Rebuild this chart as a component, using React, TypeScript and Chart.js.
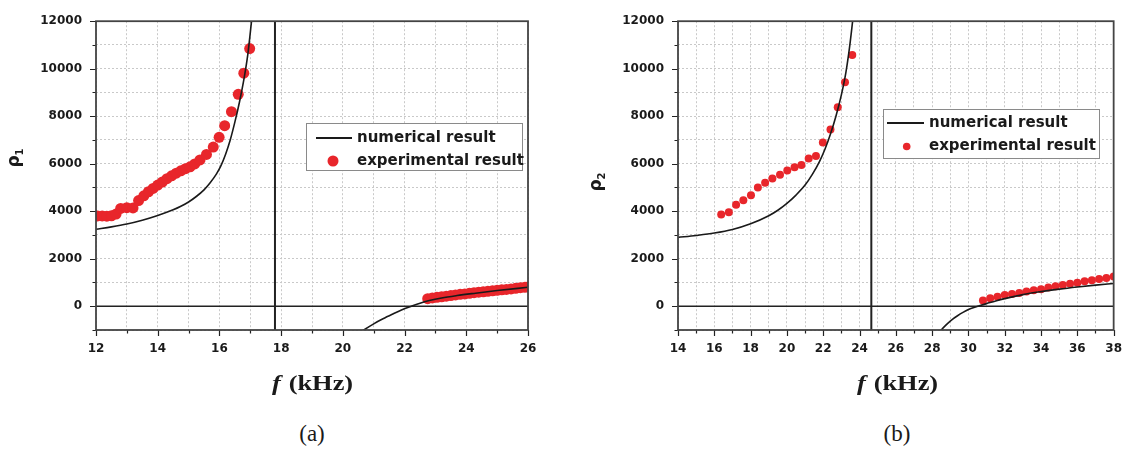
import React, { useEffect, useRef } from "react";
import { Chart, registerables } from "chart.js";

Chart.register(...registerables);

// ---------------- Panel (a) data ----------------
const aXRange = [12, 26];
const aYRange = [-1000, 12000];
const aVLine = 17.8;

const aNumLowX = [12.0, 12.5, 13.0, 13.5, 14.0, 14.5, 14.75, 15.0, 15.25, 15.5, 15.7, 15.9, 16.05, 16.2, 16.35, 16.5, 16.65, 16.8, 16.92, 17.04, 17.12];
const aNumLowY = [3240, 3340, 3460, 3620, 3820, 4060, 4210, 4390, 4620, 4900, 5200, 5560, 5920, 6400, 7000, 7750, 8600, 9600, 10600, 12000, 13000];

const aNumHighX = [20.6, 20.68, 21.0, 21.3, 21.6, 21.9, 22.22, 22.5, 22.8, 23.2, 23.7, 24.3, 25.0, 26.0];
const aNumHighY = [-1080, -1000, -740, -530, -340, -160, 0, 130, 240, 350, 450, 550, 660, 800];

const aExpLowX = [12.05, 12.2, 12.35, 12.5, 12.65, 12.8, 13.0, 13.2, 13.38, 13.55, 13.7, 13.85, 14.0, 14.15, 14.3, 14.45, 14.6, 14.75, 14.9, 15.05, 15.2, 15.37, 15.58, 15.8, 15.99, 16.17, 16.39, 16.61, 16.79, 16.98];
const aExpLowY = [3800, 3800, 3790, 3810, 3880, 4120, 4150, 4140, 4450, 4650, 4820, 4960, 5100, 5230, 5370, 5490, 5600, 5700, 5790, 5870, 5990, 6160, 6390, 6700, 7110, 7600, 8190, 8920, 9810, 10850];

const aExpHighX = [22.75, 22.9, 23.05, 23.2, 23.35, 23.5, 23.65, 23.8, 23.95, 24.1, 24.25, 24.4, 24.55, 24.7, 24.85, 25.0, 25.15, 25.3, 25.45, 25.6, 25.75, 25.9, 26.0];
const aExpHighY = [320, 350, 375, 400, 425, 450, 475, 500, 520, 545, 570, 590, 610, 630, 650, 670, 690, 710, 730, 755, 780, 800, 815];

// ---------------- Panel (b) data ----------------
const bXRange = [14, 38];
const bYRange = [-1000, 12000];
const bVLine = 24.65;

const bNumLowX = [14, 15, 16, 17, 18, 19, 19.5, 20, 20.5, 21, 21.4, 21.8, 22.1, 22.4, 22.7, 23.0, 23.25, 23.45, 23.62, 23.7];
const bNumLowY = [2900, 2980, 3080, 3230, 3470, 3810, 4040, 4330, 4680, 5100, 5550, 6100, 6620, 7250, 8000, 8900, 9850, 10900, 12000, 12600];

const bNumHighX = [28.4, 28.5, 28.8, 29.1, 29.4, 29.7, 30.0, 30.3, 30.6, 31.0, 31.5, 32.0, 33.0, 34.0, 35.0, 36.0, 37.0, 38.0];
const bNumHighY = [-1100, -1000, -760, -560, -400, -260, -140, -50, 20, 110, 225, 320, 490, 615, 720, 810, 890, 960];

const bExpLowX = [16.38, 16.8, 17.2, 17.6, 18.02, 18.4, 18.8, 19.2, 19.62, 20.02, 20.42, 20.8, 21.2, 21.6, 21.98, 22.4, 22.8, 23.2, 23.6];
const bExpLowY = [3865, 3960, 4270, 4460, 4675, 5000, 5200, 5380, 5540, 5715, 5850, 5945, 6215, 6325, 6890, 7445, 8380, 9430, 10580];

const bExpHighX = [30.8, 31.2, 31.6, 32.0, 32.4, 32.8, 33.2, 33.6, 34.0, 34.4, 34.8, 35.2, 35.6, 36.0, 36.4, 36.8, 37.2, 37.6, 38.0];
const bExpHighY = [243, 338, 405, 473, 513, 554, 622, 676, 716, 784, 838, 892, 946, 986, 1054, 1094, 1149, 1189, 1257];

// ---------------- Text ----------------
const legendLabels = ["numerical result", "experimental result"];
const xTitleItalic = "f";
const xTitleRest = " (kHz)";
const yTitleMain = "ρ";
const captions = ["(a)", "(b)"];

const RED = "#e8262b";
const INK = "#1a1a1a";

const pts = (xs: number[], ys: number[]) => xs.map((x, i) => ({ x, y: ys[i] }));

type Spec = {
  xr: number[];
  yr: number[];
  vline: number;
  numLow: [number[], number[]];
  numHigh: [number[], number[]];
  expLow: [number[], number[]];
  expHigh: [number[], number[]];
  ySub: string;
  width: number;
  height: number;
  yAxisWidth: number;
  padRight: number;
  dotR: number;
  legDotR: number;
  leg: { x: number; y: number; w: number; h: number; lx1: number; lx2: number; tx: number; r1: number; r2: number; dx: number };
  yTitle: { x: number; y: number };
  xTitle: { x: number; y: number };
};

const specA: Spec = {
  xr: aXRange,
  yr: aYRange,
  vline: aVLine,
  numLow: [aNumLowX, aNumLowY],
  numHigh: [aNumHighX, aNumHighY],
  expLow: [aExpLowX, aExpLowY],
  expHigh: [aExpHighX, aExpHighY],
  ySub: "1",
  width: 560,
  height: 400,
  yAxisWidth: 96,
  padRight: 32,
  dotR: 5.5,
  legDotR: 5.5,
  leg: { x: 306, y: 123, w: 216, h: 47, lx1: 316, lx2: 352, tx: 357, r1: 138, r2: 161, dx: 333 },
  yTitle: { x: 16, y: 158 },
  xTitle: { x: 312, y: 384 },
};

const specB: Spec = {
  xr: bXRange,
  yr: bYRange,
  vline: bVLine,
  numLow: [bNumLowX, bNumLowY],
  numHigh: [bNumHighX, bNumHighY],
  expLow: [bExpLowX, bExpLowY],
  expHigh: [bExpHighX, bExpHighY],
  ySub: "2",
  width: 574,
  height: 400,
  yAxisWidth: 118,
  padRight: 16,
  dotR: 4,
  legDotR: 3.8,
  leg: { x: 323, y: 109, w: 216, h: 49, lx1: 327, lx2: 364, tx: 369, r1: 123, r2: 146.5, dx: 346.7 },
  yTitle: { x: 38, y: 182 },
  xTitle: { x: 337, y: 384 },
};

const decor = (s: Spec) => ({
  id: "decor",
  afterDraw(chart: any) {
    const { ctx, chartArea: a, scales } = chart;
    const xs = scales.x;
    const ys = scales.y;
    ctx.save();
    // tick marks
    ctx.strokeStyle = "#222";
    ctx.lineWidth = 1.2;
    ctx.beginPath();
    for (let v = s.xr[0]; v <= s.xr[1]; v += 1) {
      const px = Math.round(xs.getPixelForValue(v)) + 0.5;
      const len = v % 2 === 0 ? 6 : 3.5;
      ctx.moveTo(px, a.bottom);
      ctx.lineTo(px, a.bottom + len);
    }
    for (let v = s.yr[0]; v <= s.yr[1]; v += 1000) {
      const py = Math.round(ys.getPixelForValue(v)) + 0.5;
      const len = v % 2000 === 0 ? 6 : 3.5;
      ctx.moveTo(a.left, py);
      ctx.lineTo(a.left - len, py);
    }
    ctx.stroke();
    // frame
    ctx.lineWidth = 1.8;
    ctx.strokeStyle = "#444";
    ctx.strokeRect(a.left, a.top, a.right - a.left, a.bottom - a.top);

    // legend
    const L = s.leg;
    ctx.fillStyle = "#fff";
    ctx.fillRect(L.x, L.y, L.w, L.h);
    ctx.lineWidth = 1;
    ctx.strokeStyle = "#8a8a8a";
    ctx.strokeRect(L.x + 0.5, L.y + 0.5, L.w, L.h);
    ctx.strokeStyle = INK;
    ctx.lineWidth = 1.8;
    ctx.beginPath();
    ctx.moveTo(L.lx1, L.r1);
    ctx.lineTo(L.lx2, L.r1);
    ctx.stroke();
    ctx.fillStyle = RED;
    ctx.beginPath();
    ctx.arc(L.dx, L.r2, s.legDotR, 0, Math.PI * 2);
    ctx.fill();
    ctx.fillStyle = INK;
    ctx.font = 'bold 15px "DejaVu Sans"';
    ctx.textBaseline = "middle";
    ctx.textAlign = "left";
    ctx.fillText(legendLabels[0], L.tx, L.r1);
    ctx.fillText(legendLabels[1], L.tx, L.r2);

    // y title
    ctx.save();
    ctx.translate(s.yTitle.x, s.yTitle.y);
    ctx.rotate(-Math.PI / 2);
    ctx.textBaseline = "alphabetic";
    ctx.font = 'bold 17px "DejaVu Sans"';
    const w1 = ctx.measureText(yTitleMain).width;
    ctx.font = 'bold 10px "DejaVu Sans"';
    const w2 = ctx.measureText(s.ySub).width;
    const st = -(w1 + w2) / 2;
    ctx.font = 'bold 17px "DejaVu Sans"';
    ctx.fillText(yTitleMain, st, 3);
    ctx.font = 'bold 10px "DejaVu Sans"';
    ctx.fillText(s.ySub, st + w1, 7);
    ctx.restore();

    // x title
    ctx.save();
    ctx.translate(s.xTitle.x, s.xTitle.y);
    ctx.scale(1.2, 1);
    ctx.textBaseline = "middle";
    ctx.font = 'italic bold 22px "Liberation Serif"';
    const wf = ctx.measureText(xTitleItalic).width;
    ctx.font = 'bold 22px "Liberation Serif"';
    const wr = ctx.measureText(xTitleRest).width;
    const sx = -(wf + wr) / 2;
    ctx.font = 'italic bold 22px "Liberation Serif"';
    ctx.fillText(xTitleItalic, sx, 0);
    ctx.font = 'bold 22px "Liberation Serif"';
    ctx.fillText(xTitleRest, sx + wf + 1, 0);
    ctx.restore();

    ctx.restore();
  },
});

const tickFont = { family: '"DejaVu Sans"', weight: "bold" as const, size: 12 };

function Panel({ spec, left }: { spec: Spec; left: number }) {
  const ref = useRef<HTMLCanvasElement>(null);
  useEffect(() => {
    const c = ref.current!;
    const s = spec;
    const lineDs = (data: any[], width: number, color: string) => ({
      type: "line" as const,
      data,
      showLine: true,
      borderColor: color,
      borderWidth: width,
      pointRadius: 0,
      cubicInterpolationMode: "monotone" as const,
      fill: false,
    });
    const chart = new Chart(c, {
      type: "scatter",
      data: {
        datasets: [
          { ...lineDs(pts(s.numLow[0], s.numLow[1]), 1.6, INK), label: legendLabels[0] },
          { ...lineDs(pts(s.numHigh[0], s.numHigh[1]), 1.6, INK), label: legendLabels[0] },
          { ...lineDs([{ x: s.xr[0], y: 0 }, { x: s.xr[1], y: 0 }], 1.3, "#222"), label: "zero" },
          { ...lineDs([{ x: s.vline, y: s.yr[0] }, { x: s.vline, y: s.yr[1] }], 2, "#222"), label: "v" },
          {
            label: legendLabels[1],
            data: pts(s.expLow[0], s.expLow[1]),
            pointRadius: s.dotR,
            pointBackgroundColor: RED,
            pointBorderWidth: 0,
            borderColor: RED,
          },
          {
            label: legendLabels[1],
            data: pts(s.expHigh[0], s.expHigh[1]),
            pointRadius: s.dotR,
            pointBackgroundColor: RED,
            pointBorderWidth: 0,
            borderColor: RED,
          },
        ] as any,
      },
      options: {
        animation: false,
        responsive: false,
        devicePixelRatio: 1,
        events: [],
        layout: { padding: { left: 0, top: 10, right: s.padRight, bottom: 0 } },
        plugins: { legend: { display: false }, tooltip: { enabled: false } },
        scales: {
          x: {
            type: "linear",
            min: s.xr[0],
            max: s.xr[1],
            afterFit: (sc: any) => {
              sc.height = 70;
            },
            ticks: {
              stepSize: 1,
              autoSkip: false,
              maxRotation: 0,
              padding: 12,
              color: INK,
              font: tickFont,
              callback: (v: any) => (Number(v) % 2 === 0 ? String(v) : ""),
            },
            grid: { color: "#c9c9c9", lineWidth: 1, drawTicks: false },
            border: { display: false, dash: [2, 2] },
          },
          y: {
            type: "linear",
            min: s.yr[0],
            max: s.yr[1],
            afterFit: (sc: any) => {
              sc.width = s.yAxisWidth;
            },
            ticks: {
              stepSize: 1000,
              autoSkip: false,
              padding: 14,
              color: INK,
              font: tickFont,
              callback: (v: any) => (Number(v) % 2000 === 0 ? String(v) : ""),
            },
            grid: { color: "#c9c9c9", lineWidth: 1, drawTicks: false },
            border: { display: false, dash: [2, 2] },
          },
        },
      } as any,
      plugins: [decor(s)],
    });
    return () => chart.destroy();
  }, [spec]);
  return (
    <canvas
      ref={ref}
      width={spec.width}
      height={spec.height}
      style={{ position: "absolute", left, top: 0, width: spec.width, height: spec.height, display: "block" }}
    />
  );
}

export default function App() {
  const capStyle = (cx: number): React.CSSProperties => ({
    position: "absolute",
    left: cx - 50,
    top: 421,
    width: 100,
    textAlign: "center",
    fontFamily: '"Liberation Serif", serif',
    fontSize: 23,
    lineHeight: "26px",
    color: INK,
  });
  return (
    <div style={{ position: "absolute", left: 0, top: 0, width: 1134, height: 453, background: "#fff", overflow: "hidden" }}>
      <Panel spec={specA} left={0} />
      <Panel spec={specB} left={560} />
      <div style={capStyle(312)}>{captions[0]}</div>
      <div style={capStyle(897)}>{captions[1]}</div>
    </div>
  );
}
